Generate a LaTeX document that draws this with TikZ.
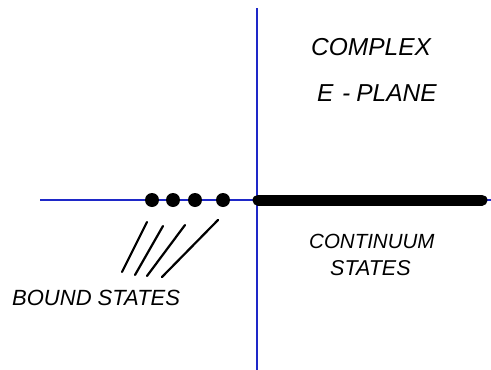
\documentclass[tikz,border=0pt]{standalone}
\usepackage{fontspec}
\setmainfont{Liberation Sans}
\definecolor{axisblue}{RGB}{30,40,200}
\begin{document}
\begin{tikzpicture}[x=1pt,y=-1pt,
  axis/.style={draw=axisblue,line width=1.6pt},
  boundstate/.style={circle,fill=black,inner sep=0pt,minimum width=12pt,minimum height=14pt},
  slash/.style={draw=black,line width=2.2pt,line cap=round},
  lbl/.style={inner sep=0pt,anchor=west}]
\useasboundingbox (0,0) rectangle (491,370);
\coordinate (xl) at (40,200);
\coordinate (xr) at (491,200);
\coordinate (yt) at (257,8);
\coordinate (yb) at (257,370);
\draw[axis] (xl) -- (xr);
\draw[axis] (yt) -- (yb);
\node[boundstate] (b1) at (152,200) {};
\node[boundstate] (b2) at (173,200) {};
\node[boundstate] (b3) at (195,200) {};
\node[boundstate] (b4) at (223,200) {};
\coordinate (c0) at (258,200);
\coordinate (c1) at (482,200);
\draw[black,line width=11pt,line cap=round] (c0) -- (c1);
\coordinate (s1a) at (147,222); \coordinate (s1b) at (122,272);
\coordinate (s2a) at (163,226); \coordinate (s2b) at (135,275);
\coordinate (s3a) at (185,225); \coordinate (s3b) at (147,276);
\coordinate (s4a) at (218,220); \coordinate (s4b) at (162,277);
\draw[slash] (s1a) -- (s1b);
\draw[slash] (s2a) -- (s2b);
\draw[slash] (s3a) -- (s3b);
\draw[slash] (s4a) -- (s4b);
\node[lbl,font=\fontsize{22}{22}\selectfont\itshape] (bound) at (12,298) {BOUND STATES};
\node[lbl,font=\fontsize{20.5}{20.5}\selectfont\itshape] (cont) at (309,241) {CONTINUUM};
\node[lbl,font=\fontsize{21.5}{21.5}\selectfont\itshape] (stat) at (330,268) {STATES};
\node[lbl,font=\fontsize{24.5}{24.5}\selectfont\itshape] (cplx) at (311,47) {COMPLEX};
\node[lbl,font=\fontsize{24.5}{24.5}\selectfont\itshape] (eplane) at (317,93) {E\hspace{0.35em}-\hspace{0.25em}PLANE};
\end{tikzpicture}
\end{document}
